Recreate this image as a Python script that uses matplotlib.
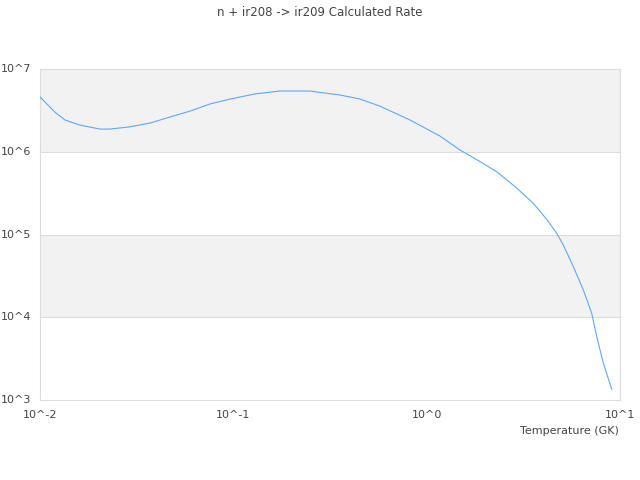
import numpy as np
import matplotlib
matplotlib.use("Agg")
import matplotlib.pyplot as plt

# temperature (GK) and calculated rate
temps = [0.01, 0.01196, 0.01346, 0.0161, 0.0204, 0.023, 0.0292, 0.037, 0.0471,
         0.0597, 0.0758, 0.0962, 0.129, 0.174, 0.249, 0.356, 0.452, 0.574,
         0.82, 1.17, 1.487, 1.89, 2.30, 2.90, 3.56, 4.20, 4.71, 5.09, 5.74,
         6.46, 7.14, 7.58, 8.20, 9.06]
rates = [4.6e6, 3.0e6, 2.42e6, 2.1e6, 1.88e6, 1.88e6, 2.0e6, 2.22e6, 2.63e6,
         3.1e6, 3.78e6, 4.33e6, 4.99e6, 5.42e6, 5.42e6, 4.85e6, 4.34e6, 3.55e6,
         2.42e6, 1.55e6, 1.05e6, 7.6e5, 5.74e5, 3.7e5, 2.38e5, 1.5e5,
         1.03e5, 7.46e4, 4.08e4, 2.14e4, 1.12e4, 5.82e3, 2.78e3, 1.35e3]

x_ticks = [0.01, 0.1, 1, 10]
x_labels = ["10^-2", "10^-1", "10^0", "10^1"]
y_ticks = [1e3, 1e4, 1e5, 1e6, 1e7]
y_labels = ["10^3", "10^4", "10^5", "10^6", "10^7"]

fig = plt.figure(figsize=(6.4, 4.8), dpi=100)
ax = fig.add_axes([40 / 640, 1 - 400 / 480, 580 / 640, 331 / 480])
ax.set_xscale("log")
ax.set_yscale("log")
ax.set_xlim(0.01, 10)
ax.set_ylim(1e3, 1e7)

# alternating bands
for lo, hi in [(1e4, 1e5), (1e6, 1e7)]:
    ax.axhspan(lo, hi, color="#f2f2f2", zorder=0, lw=0)
for y in y_ticks:
    ax.axhline(y, color="#dcdcdc", lw=0.8, zorder=1, clip_on=False)
ax.axvline(10, color="#dcdcdc", lw=0.8, zorder=1, clip_on=False)
ax.axvline(0.01, color="#dcdcdc", lw=0.8, zorder=1, clip_on=False)

ax.plot(temps, rates, color="#5fa8f2", lw=0.8, zorder=3)

for s in ax.spines.values():
    s.set_visible(False)
ax.minorticks_off()
ax.set_xticks(x_ticks)
ax.set_xticklabels(x_labels)
ax.set_yticks(y_ticks)
ax.set_yticklabels([])
ax.tick_params(length=0, labelsize=8, labelcolor="#444444", pad=7)
for y, lab in zip(y_ticks, y_labels):
    ax.annotate(lab, xy=(0, y), xycoords=("figure fraction", "data"),
                xytext=(1, 0), textcoords="offset pixels",
                ha="left", va="center", fontsize=8, color="#444444")

fig.text(619 / 640, 1 - 431 / 480, "Temperature (GK)", ha="right", va="center",
         fontsize=8, color="#444444")
fig.text(0.5, 1 - 12 / 480, "n + ir208 -> ir209 Calculated Rate", ha="center",
         va="center", fontsize=8.5, color="#444444")

fig.savefig("out.png", dpi=100)
